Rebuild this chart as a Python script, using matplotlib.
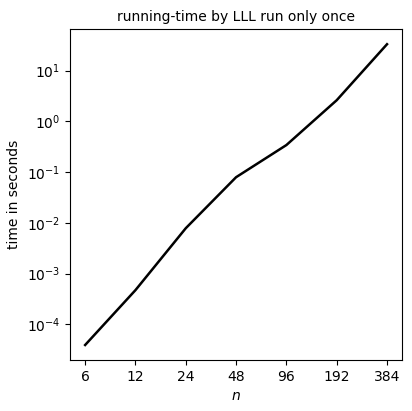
import matplotlib
matplotlib.use("Agg")
import matplotlib.pyplot as plt
from matplotlib.ticker import FixedLocator, FixedFormatter, NullLocator

# problem size and measured running time (seconds)
n_values = [6, 12, 24, 48, 96, 192, 384]
times = [3.9e-5, 4.7e-4, 7.8e-3, 7.9e-2, 0.34, 2.6, 33.0]
tick_labels = [str(n) for n in n_values]

fig = plt.figure(figsize=(4.12, 4.11), dpi=100)
ax = fig.add_axes([0.17, 0.124, 0.806, 0.805])

ax.plot(n_values, times, color='black', linewidth=1.8)
ax.set_xscale('log', base=2)
ax.set_yscale('log')

ax.xaxis.set_major_locator(FixedLocator(n_values))
ax.xaxis.set_major_formatter(FixedFormatter(tick_labels))
ax.xaxis.set_minor_locator(NullLocator())
ax.yaxis.set_minor_locator(NullLocator())

ax.set_xlabel('$n$')
ax.set_ylabel('time in seconds')
ax.set_title('running-time by LLL run only once', fontsize=10)

fig.savefig('out.png', dpi=100)
